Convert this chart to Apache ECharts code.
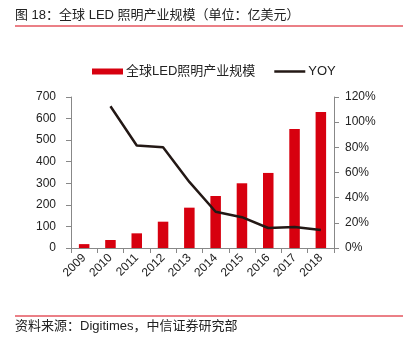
<!DOCTYPE html>
<html><head><meta charset="utf-8">
<script src="https://cdn.jsdelivr.net/npm/echarts@6/dist/echarts.min.js"></script>
<style>html,body{margin:0;padding:0;background:#fff}#c{width:403px;height:346px}</style>
</head><body><div id="c"></div>
<script>
const categories = ['2009','2010','2011','2012','2013','2014','2015','2016','2017','2018'];
const marketSize = [18, 37, 68, 122, 187, 241, 300, 348, 552, 630];
const yoy = [null, 112.6, 81.5, 80.0, 52.5, 28.8, 24.5, 15.9, 16.7, 14.3];
const leftTicks = {min: 0, max: 700, interval: 100};
const rightTicks = {min: 0, max: 120, interval: 20};
const titleText = '图 18：全球 LED 照明产业规模（单位：亿美元）';
const sourceText = '资料来源：Digitimes，中信证券研究部';
const barName = '全球LED照明产业规模';
const lineName = 'YOY';

const font = '"Liberation Sans", Arial, "Noto Sans CJK SC", sans-serif';
const chart = echarts.init(document.getElementById('c'), null, {renderer: 'canvas'});
chart.setOption({
  animation: false,
  textStyle: {fontFamily: font},
  grid: {left: 71, right: 69, top: 97, bottom: 98, containLabel: false},
  legend: {
    left: 87, top: 60, itemWidth: 31, itemHeight: 6, itemGap: 19,
    symbolKeepAspect: true,
    textStyle: {fontSize: 13, color: '#222', fontFamily: font, padding: [0,0,0,-2]},
    data: [
      {name: barName, icon: 'path://M0,0H31V6H0Z'},
      {name: lineName, icon: 'path://M0,0H124V10H0Z', itemStyle: {color: '#231815', borderWidth: 0}}
    ]
  },
  xAxis: {
    type: 'category', data: categories,
    axisLine: {lineStyle: {color: '#888'}},
    axisTick: {show: true, alignWithLabel: false, lineStyle: {color: '#888'}, length: 5},
    axisLabel: {rotate: 45, color: '#222', fontSize: 12, margin: 8, interval: 0}
  },
  yAxis: [{
    type: 'value', min: leftTicks.min, max: leftTicks.max, interval: leftTicks.interval,
    axisLine: {show: true, lineStyle: {color: '#888'}},
    axisTick: {show: true, length: 5, lineStyle: {color: '#888'}},
    axisLabel: {color: '#222', fontSize: 12, margin: 15},
    splitLine: {show: false}
  }, {
    type: 'value', min: rightTicks.min, max: rightTicks.max, interval: rightTicks.interval,
    position: 'right',
    axisLine: {show: true, lineStyle: {color: '#888'}},
    axisTick: {show: true, length: 5, lineStyle: {color: '#888'}},
    axisLabel: {color: '#222', fontSize: 12, margin: 11, formatter: '{value}%'},
    splitLine: {show: false}
  }],
  series: [{
    name: barName, type: 'bar', data: marketSize, barWidth: '40%',
    itemStyle: {color: '#d7000f'}
  }, {
    name: lineName, type: 'line', yAxisIndex: 1, data: yoy,
    symbol: 'none', lineStyle: {color: '#231815', width: 2.5},
    itemStyle: {color: '#231815'}
  }],
  graphic: [
    {type: 'text', left: 15, top: 9, style: {text: titleText, font: '13px ' + font, fill: '#222'}},
    {type: 'line', shape: {x1: 15, y1: 26, x2: 403, y2: 26}, style: {stroke: '#d7000f', lineWidth: 1}},
    {type: 'line', shape: {x1: 15, y1: 316, x2: 403, y2: 316}, style: {stroke: '#d7000f', lineWidth: 1}},
    {type: 'text', left: 15, top: 320, style: {text: sourceText, font: '13px ' + font, fill: '#222'}}
  ]
});
</script></body></html>
